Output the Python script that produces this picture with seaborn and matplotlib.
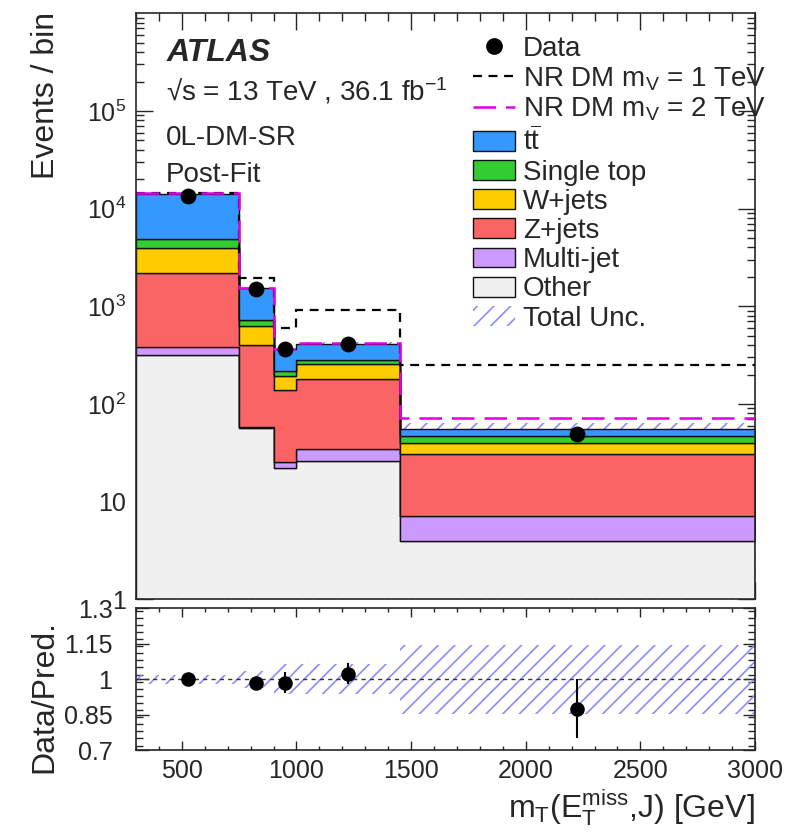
import numpy as np
import pandas as pd
import matplotlib
matplotlib.use("Agg")
import matplotlib.pyplot as plt
import seaborn as sns
from matplotlib.patches import Patch
from matplotlib.lines import Line2D
from matplotlib.ticker import (FixedLocator, FixedFormatter, MultipleLocator,
                               LogLocator, NullFormatter)

# ---------------- data ----------------
bin_edges = [300, 750, 900, 1000, 1450, 3000]
processes = ["tt", "Single top", "W+jets", "Z+jets", "Multi-jet", "Other"]
ttbar = [9260, 804, 145, 129, 8.4]
single_top = [928, 95, 24, 25, 6.8]
w_jets = [1716, 227, 55, 76, 9.4]
z_jets = [1819, 343, 112, 146, 23.4]
multijet = [69, 1.0, 3.5, 8.3, 3.25]
other = [316, 56.5, 22.0, 25.9, 3.95]
data = [13460, 1500, 364, 410, 48.7]
nr_dm_1tev = [14550, 1960, 598, 914, 251]
nr_dm_2tev = [14300, 1540, 362, 423, 71]
ratio = [1.0, 0.986, 0.986, 1.024, 0.876]
ratio_err = [0.01, 0.02, 0.045, 0.045, 0.125]
unc_rel = [0.02, 0.035, 0.063, 0.063, 0.145]

colors = {"tt": "#3399ff", "Single top": "#33cc33", "W+jets": "#ffcc00",
          "Z+jets": "#fa6464", "Multi-jet": "#cc99ff", "Other": "#f0f0f0"}
hatch_color = "#8c8cff"

# ---------------- style ----------------
sns.set_style("ticks")
plt.rcParams["font.family"] = ["Liberation Sans", "DejaVu Sans"]
plt.rcParams["mathtext.fontset"] = "custom"
plt.rcParams["mathtext.rm"] = "Liberation Sans"
plt.rcParams["mathtext.it"] = "Liberation Sans:italic"
plt.rcParams["mathtext.bf"] = "Liberation Sans:bold"
plt.rcParams["hatch.linewidth"] = 1.2
plt.rcParams["axes.linewidth"] = 1.2

edges = np.array(bin_edges, dtype=float)
centers = 0.5 * (edges[:-1] + edges[1:])
layers = {"tt": ttbar, "Single top": single_top, "W+jets": w_jets,
          "Z+jets": z_jets, "Multi-jet": multijet, "Other": other}
rows = []
for p in processes:
    for c, v in zip(centers, layers[p]):
        rows.append({"x": c, "w": v, "process": p})
df = pd.DataFrame(rows)
total = np.sum([np.array(layers[p]) for p in processes], axis=0)

W, H = 807, 834
fig = plt.figure(figsize=(W / 100, H / 100), dpi=100)
L, R = 136, 755
ax = fig.add_axes([L / W, 1 - 599.3 / H, (R - L) / W, (599.3 - 13.3) / H])
rax = fig.add_axes([L / W, 1 - 750.3 / H, (R - L) / W, (750.3 - 608.3) / H])

# ---------------- main panel ----------------
ax.set_yscale("log")
ax.stairs(total * (1 + np.array(unc_rel)), edges,
          baseline=total * (1 - np.array(unc_rel)), fill=True,
          facecolor="none", edgecolor=hatch_color, hatch="//",
          linewidth=0, zorder=0.5)
sns.histplot(data=df, x="x", weights="w", hue="process", hue_order=processes,
             bins=bin_edges, multiple="stack", element="step", fill=True,
             palette=colors, alpha=1, edgecolor="#111111", linewidth=1.0,
             legend=False, ax=ax)
ax.stairs(nr_dm_1tev, edges, baseline=None, color="black",
          linestyle=(0, (4, 3)), linewidth=1.6, zorder=3)
ax.stairs(nr_dm_2tev, edges, baseline=None, color="#e000e0",
          linestyle=(0, (9, 4)), linewidth=1.8, zorder=3)
sns.scatterplot(x=centers, y=data, color="black", s=130, edgecolor="black",
                linewidth=0, ax=ax, zorder=5, legend=False)

ax.set_xlim(300, 3000)
ax.set_ylim(1, 1e6)
ax.set_xlabel("")
ax.set_ylabel("")
ax.xaxis.set_major_locator(MultipleLocator(500))
ax.xaxis.set_minor_locator(MultipleLocator(100))
ax.yaxis.set_major_locator(FixedLocator([1, 10, 100, 1e3, 1e4, 1e5]))
ax.yaxis.set_major_formatter(FixedFormatter(
    ["1", "10", r"10$^{2}$", r"10$^{3}$", r"10$^{4}$", r"10$^{5}$"]))
ax.yaxis.set_minor_locator(LogLocator(base=10, subs=np.arange(2, 10), numticks=30))
ax.yaxis.set_minor_formatter(NullFormatter())
ax.tick_params(which="both", direction="in", top=True, right=True,
               labelbottom=False, labelsize=18, width=1.0)
ax.tick_params(which="major", length=12, pad=7)
ax.tick_params(which="minor", length=6)

# texts
fig.text(167 / W, 1 - 61 / H, "ATLAS", fontsize=23, fontweight="bold",
         fontstyle="italic", va="baseline")
fig.text(166 / W, 1 - 101 / H, "√s = 13 TeV , 36.1 fb$^{-1}$", fontsize=20,
         va="baseline")
fig.text(166 / W, 1 - 145 / H, "0L-DM-SR", fontsize=20, va="baseline")
fig.text(166 / W, 1 - 182 / H, "Post-Fit", fontsize=20, va="baseline")

# legend
handles = [
    Line2D([], [], marker="o", color="black", linestyle="none", markersize=11),
    Line2D([], [], color="black", linestyle=(0, (4, 3)), linewidth=1.6),
    Line2D([], [], color="#e000e0", linestyle=(0, (9, 4)), linewidth=1.8),
]
labels = ["Data", r"NR DM m$_{\mathrm{V}}$ = 1 TeV", r"NR DM m$_{\mathrm{V}}$ = 2 TeV"]
for p in processes:
    handles.append(Patch(facecolor=colors[p], edgecolor="#111111", linewidth=1.0))
labels += [r"$\mathrm{t\overline{t}}$", "Single top", "W+jets", "Z+jets",
           "Multi-jet", "Other"]
handles.append(Patch(facecolor="none", edgecolor=hatch_color, hatch="//", linewidth=0))
labels.append("Total Unc.")
ax.legend(handles, labels, loc="upper left",
          bbox_to_anchor=(473 / W, 1 - 36 / H), bbox_transform=fig.transFigure,
          frameon=False, fontsize=20, handlelength=1.5, handleheight=0.72,
          handletextpad=0.3, labelspacing=0.115, borderpad=0, borderaxespad=0)

# ---------------- ratio panel ----------------
ur = np.array(unc_rel)
rax.stairs(1 + ur, edges, baseline=1 - ur, fill=True, facecolor="none",
           edgecolor=hatch_color, hatch="//", linewidth=0, zorder=1)
rax.axhline(1.0, color="#333333", linestyle=(0, (3, 3)), linewidth=1.0, zorder=2)
rax.errorbar(centers, ratio, yerr=ratio_err, fmt="none", ecolor="black",
             elinewidth=1.5, capsize=0, zorder=3)
sns.scatterplot(x=centers, y=ratio, color="black", s=110, edgecolor="black",
                linewidth=0, ax=rax, zorder=4, legend=False)
rax.set_xlim(300, 3000)
rax.set_ylim(0.7, 1.3)
rax.set_xlabel("")
rax.set_ylabel("")
rax.xaxis.set_major_locator(MultipleLocator(500))
rax.xaxis.set_minor_locator(MultipleLocator(100))
rax.yaxis.set_major_locator(FixedLocator([0.7, 0.85, 1.0, 1.15, 1.3]))
rax.yaxis.set_major_formatter(FixedFormatter(["0.7", "0.85", "1", "1.15", "1.3"]))
rax.yaxis.set_minor_locator(MultipleLocator(0.03))
rax.tick_params(which="both", direction="in", top=True, right=True,
                labelsize=18, width=1.0)
rax.tick_params(axis="x", which="major", length=6.5, pad=6)
rax.tick_params(axis="x", which="minor", length=3)
rax.tick_params(axis="y", which="major", length=9, pad=17)
rax.tick_params(axis="y", which="minor", length=5)

# axis titles
fig.text(46 / W, 1 - 12 / H, "Events / bin", rotation=90, ha="center",
         va="top", fontsize=23)
fig.text(44 / W, 1 - 697 / H, "Data/Pred.", rotation=90, ha="center",
         va="center", fontsize=23)
fig.text(755 / W, 1 - 817 / H,
         r"m$_{\mathrm{T}}$(E$_{\mathrm{T}}^{\mathrm{miss}}$,J) [GeV]",
         ha="right", va="baseline", fontsize=23)

fig.savefig("out.png", dpi=100)
